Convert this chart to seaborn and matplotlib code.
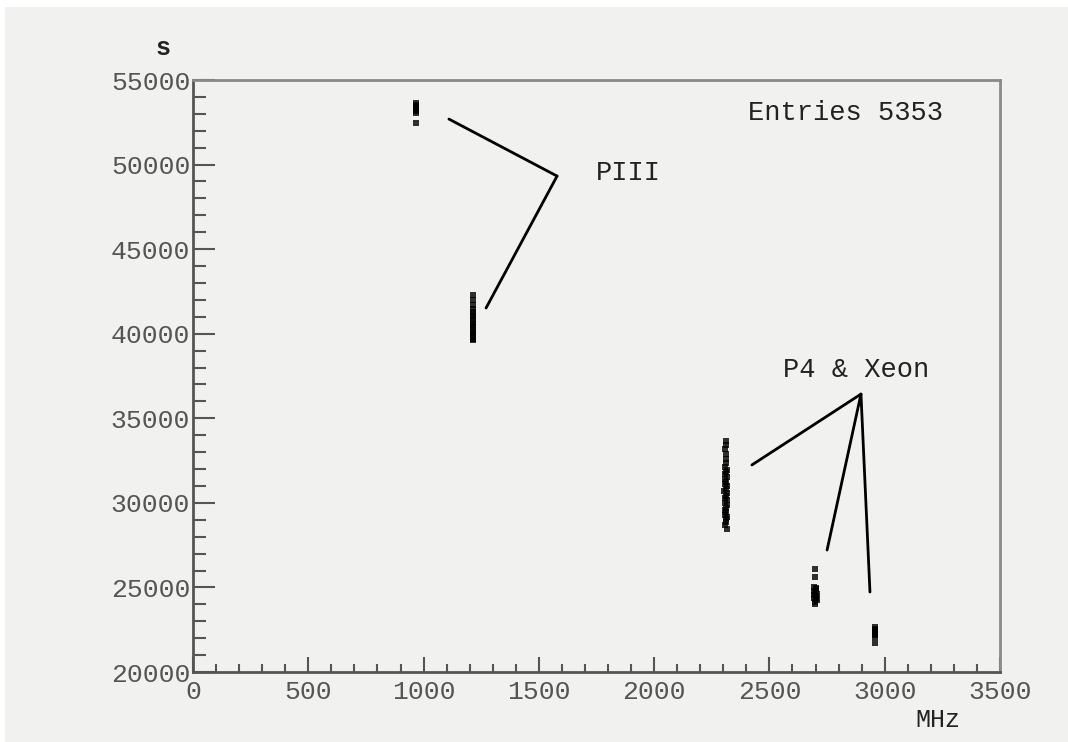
import pandas as pd
import matplotlib
matplotlib.use("Agg")
import matplotlib.pyplot as plt
import seaborn as sns
from matplotlib.patches import Rectangle
from matplotlib.ticker import MultipleLocator

# clock speed (MHz) vs run time (s)
mhz_piii_a = [967, 967, 968, 967, 966, 967, 967, 966]
s_piii_a = [53640, 53540, 53430, 53330, 53240, 53150, 53060, 52470]

mhz_piii_b = [1214, 1213, 1214, 1215, 1213, 1215, 1214, 1216, 1213, 1215, 1214,
              1216, 1213, 1215, 1214, 1213, 1216, 1214, 1215, 1213]
s_piii_b = [42290, 41990, 41720, 41460, 41260, 41120, 40960, 40810, 40660, 40520,
            40380, 40230, 40090, 39960, 39850, 39760, 39700, 39660, 39630, 39680]

mhz_p4_a = [2310, 2312, 2309, 2311, 2313, 2310, 2308, 2314, 2311, 2306, 2316, 2309,
            2313, 2307, 2315, 2310, 2305, 2317, 2312, 2308, 2314, 2306, 2316, 2311,
            2309, 2313, 2307, 2315, 2310, 2312, 2308, 2314]
s_p4_a = [33660, 33420, 33160, 32880, 32600, 32330, 32100, 31960, 31820, 31680,
          31540, 31400, 31260, 31120, 30980, 30840, 30700, 30560, 30420, 30280,
          30140, 30000, 29860, 29720, 29580, 29440, 29300, 29160, 29020, 28880,
          28700, 28480]

mhz_p4_b = [2697, 2699, 2694, 2700, 2704, 2692, 2698, 2706, 2695, 2702, 2693,
            2700, 2705, 2696, 2699]
s_p4_b = [26090, 25620, 25030, 24960, 24880, 24800, 24720, 24640, 24560, 24480,
          24400, 24320, 24240, 24140, 24040]

mhz_xeon = [2958, 2957, 2959, 2958, 2957, 2959, 2958, 2958]
s_xeon = [22660, 22560, 22460, 22360, 22260, 22160, 22040, 21730]

entries = 5353

df = pd.DataFrame({
    "MHz": mhz_piii_a + mhz_piii_b + mhz_p4_a + mhz_p4_b + mhz_xeon,
    "s": s_piii_a + s_piii_b + s_p4_a + s_p4_b + s_xeon,
})

sns.set_theme(style="ticks")
plt.rcParams["font.family"] = ["Liberation Mono", "DejaVu Sans"]
bg = "#f1f1ef"

fig = plt.figure(figsize=(10.68, 7.42), dpi=100, facecolor="white")
fig.patches.append(Rectangle((5 / 1068, 0), 1, 1 - 7 / 742, transform=fig.transFigure,
                             facecolor=bg, edgecolor="none", zorder=-10))
ax = fig.add_axes([193 / 1068, 1 - 672 / 742, 807 / 1068, 592 / 742])
ax.set_facecolor(bg)

sns.scatterplot(data=df, x="MHz", y="s", ax=ax, marker="s", s=15, color="black",
                alpha=0.8, linewidth=0, legend=False)

ax.set_xlim(0, 3500)
ax.set_ylim(20000, 55000)
ax.xaxis.set_major_locator(MultipleLocator(500))
ax.xaxis.set_minor_locator(MultipleLocator(100))
ax.yaxis.set_major_locator(MultipleLocator(5000))
ax.yaxis.set_minor_locator(MultipleLocator(1000))
ax.tick_params(which="both", direction="in", color="#555555", width=1.5,
               labelsize=19, labelcolor="#555555")
ax.tick_params(axis="x", which="major", length=11, pad=6)
ax.tick_params(axis="x", which="minor", length=6)
ax.tick_params(axis="y", which="major", length=16, pad=2)
ax.tick_params(axis="y", which="minor", length=9)
ax.set_xlabel("")
ax.set_ylabel("")

for side in ["left", "bottom"]:
    ax.spines[side].set_color("#555555")
    ax.spines[side].set_linewidth(2)
for side in ["top", "right"]:
    ax.spines[side].set_visible(True)
    ax.spines[side].set_color("#8a8a8a")
    ax.spines[side].set_linewidth(2)

fig.text(163 / 1068, 1 - 48 / 742, "s", fontsize=18, color="#222222",
         fontweight="bold", ha="center", va="center")
fig.text(938 / 1068, 1 - 720 / 742, "MHz", fontsize=18, color="#222222",
         ha="center", va="center")
ax.text(0.929, 0.944, f"Entries {entries}", transform=ax.transAxes, fontsize=19.5,
        color="#222222", ha="right", va="center")

# annotation labels and pointer lines
ax.text(1890, 49500, "PIII", fontsize=19.5, color="#222222", ha="center", va="center")
for x1, y1 in [(1110, 52690), (1271, 41520)]:
    ax.plot([1579, x1], [49320, y1], color="black", lw=2)

ax.text(2878, 37850, "P4 & Xeon", fontsize=19.5, color="#222222", ha="center", va="center")
for x1, y1 in [(2424, 32240), (2750, 27210), (2936, 24730)]:
    ax.plot([2897, x1], [36430, y1], color="black", lw=2)

fig.savefig("out.png", dpi=100, facecolor=fig.get_facecolor())
